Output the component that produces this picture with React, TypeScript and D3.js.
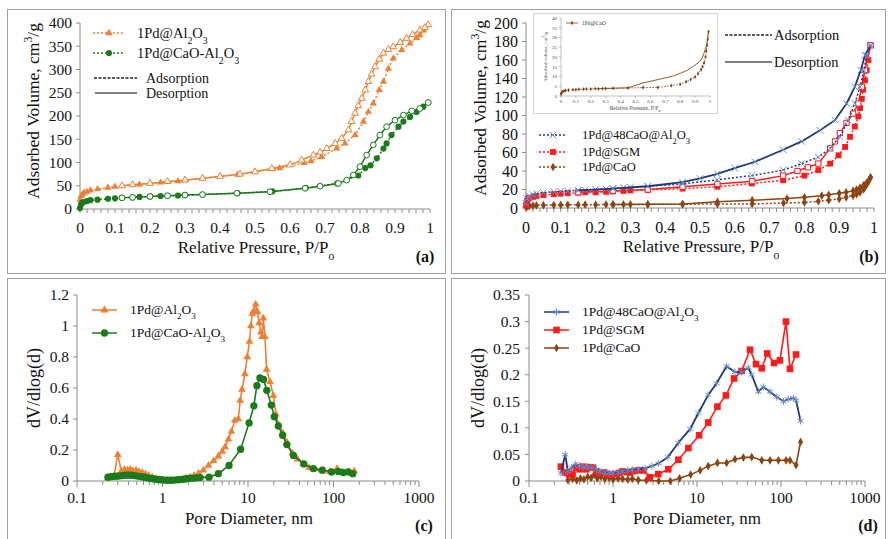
import React from "react";
import * as d3 from "d3";

type Pt = [number, number];

const SERIF = '"Liberation Serif", "Times New Roman", Times, "DejaVu Serif", serif';
const AXIS = "#8a8a8a";
const FRAME = "#a0a0a0";
const ORANGE = "#EE7F33";
const GREEN = "#1B7A1B";
const NAVY = "#1F3A7A";
const NAVY_MK = "#6A8CC8";
const RED = "#FF1A1A";
const BROWN = "#8B4513";

// ---------- (a) N2 isotherms ----------
const alAds: Pt[] = [[0,20],[0.003,28],[0.007,32],[0.012,35],[0.02,37],[0.03,40],[0.05,43],[0.08,46],[0.1,48],[0.12,50],[0.15,52],[0.17,53],[0.2,55],[0.23,57],[0.25,58],[0.28,60],[0.3,62],[0.35,66],[0.45,74],[0.55,86],[0.57,88],[0.64,99],[0.66,103],[0.69,112],[0.733,130],[0.757,141],[0.786,159],[0.81,188],[0.824,209],[0.838,227],[0.855,256],[0.867,274],[0.881,302],[0.895,324],[0.919,342],[0.943,356],[0.962,368],[0.971,374],[0.982,384],[0.995,396]];
const alDes: Pt[] = [[0.995,396],[0.985,390],[0.971,385],[0.95,375],[0.933,367],[0.915,358],[0.895,349],[0.881,343],[0.867,335],[0.855,322],[0.843,306],[0.833,290],[0.824,274],[0.815,256],[0.805,238],[0.795,222],[0.786,206],[0.776,188],[0.767,170],[0.748,152],[0.729,141],[0.705,130],[0.686,122],[0.667,116],[0.633,105],[0.6,95],[0.548,87],[0.5,80],[0.457,75],[0.4,70],[0.35,66],[0.3,62],[0.25,59],[0.2,55],[0.15,52],[0.12,50]];
const caAlAds: Pt[] = [[0,2],[0.003,10],[0.006,13],[0.01,15],[0.02,17],[0.03,19],[0.05,20],[0.08,22],[0.1,23],[0.12,24],[0.15,25],[0.17,26],[0.2,27],[0.23,28],[0.25,28.5],[0.28,29],[0.3,30],[0.35,31],[0.45,34],[0.55,38],[0.645,45],[0.735,55],[0.795,72],[0.815,88],[0.83,94],[0.848,109],[0.867,130],[0.876,141],[0.89,159],[0.91,177],[0.924,188],[0.943,198],[0.962,209],[0.981,220],[0.995,229]];
const caAlDes: Pt[] = [[0.995,229],[0.971,216],[0.948,211],[0.924,202],[0.9,191],[0.876,177],[0.857,159],[0.838,138],[0.819,116],[0.8,91],[0.781,73],[0.762,62],[0.738,55],[0.686,49],[0.643,44.5],[0.543,37],[0.448,34],[0.35,31],[0.3,30],[0.25,28.5],[0.2,27],[0.15,25],[0.12,24]];

// ---------- (b) N2 isotherms ----------
const cao48Ads: Pt[] = [[0,5],[0.003,10],[0.006,12],[0.01,13],[0.02,14.5],[0.03,15.5],[0.05,16.5],[0.08,17.5],[0.1,18],[0.12,18.5],[0.15,19],[0.17,19.5],[0.2,20],[0.23,20.5],[0.25,21],[0.28,22],[0.3,22.5],[0.35,23.5],[0.45,26],[0.55,30.5],[0.649,35],[0.739,41],[0.792,48],[0.84,55],[0.874,64.5],[0.902,77],[0.926,95],[0.945,113],[0.96,131],[0.971,149],[0.979,165],[0.99,176]];
const cao48Des: Pt[] = [[0.99,176],[0.974,165],[0.962,149],[0.945,131],[0.921,113],[0.888,95],[0.845,84],[0.792,72],[0.739,63],[0.658,50],[0.6,43],[0.55,37],[0.5,32],[0.45,28],[0.35,23.5],[0.25,21],[0.15,19]];
const sgmAds: Pt[] = [[0,3],[0.003,8],[0.006,10],[0.01,11],[0.02,12],[0.03,13],[0.05,14],[0.08,15],[0.1,15.5],[0.12,16],[0.15,16.5],[0.17,17],[0.2,17],[0.23,17.5],[0.25,18],[0.28,18.5],[0.3,19],[0.35,19.5],[0.45,21],[0.55,23],[0.649,26.5],[0.739,30],[0.8,35],[0.84,41],[0.874,48],[0.898,57],[0.917,66],[0.931,77],[0.945,88],[0.955,99],[0.96,108],[0.965,118],[0.969,128],[0.974,138],[0.979,149],[0.984,160],[0.99,176]];
const sgmDes: Pt[] = [[0.99,176],[0.974,149],[0.965,131],[0.955,113],[0.94,102],[0.921,92],[0.902,81],[0.888,72],[0.874,64.5],[0.84,48],[0.81,44],[0.78,40],[0.739,35],[0.65,29],[0.55,26],[0.45,23],[0.35,20],[0.25,18.5],[0.15,17]];
const caoAds: Pt[] = [[0,1],[0.005,1.8],[0.01,2.2],[0.02,2.6],[0.03,2.8],[0.05,3],[0.08,3.2],[0.1,3.3],[0.12,3.4],[0.15,3.5],[0.17,3.6],[0.2,3.6],[0.23,3.7],[0.25,3.7],[0.28,3.8],[0.3,3.8],[0.35,3.9],[0.45,4.1],[0.55,4.3],[0.65,4.4],[0.74,5.3],[0.8,6],[0.84,7.3],[0.87,8.5],[0.9,9.8],[0.92,11.5],[0.94,13.5],[0.95,15],[0.96,17],[0.97,20],[0.975,23],[0.98,26],[0.985,29],[0.99,33]];
const caoDes: Pt[] = [[0.99,33],[0.985,30],[0.98,27.5],[0.975,25.5],[0.97,24.5],[0.96,22],[0.95,20],[0.94,18.5],[0.92,17],[0.9,15.9],[0.87,14.3],[0.85,13.3],[0.8,11.6],[0.75,10.2],[0.65,8.4],[0.55,6.7],[0.45,4.2],[0.35,4],[0.25,3.8]];

// ---------- (c) pore size distributions ----------
const alPsd: Pt[] = [[0.23,0.02],[0.25,0.025],[0.27,0.03],[0.3,0.17],[0.33,0.065],[0.36,0.075],[0.39,0.07],[0.42,0.075],[0.45,0.065],[0.49,0.07],[0.53,0.06],[0.58,0.055],[0.63,0.045],[0.69,0.035],[0.76,0.025],[0.84,0.015],[0.93,0.008],[1.03,0.004],[1.14,0.002],[1.26,0.002],[1.4,0.003],[1.55,0.006],[1.72,0.01],[1.9,0.018],[2.1,0.025],[2.35,0.035],[2.65,0.05],[3,0.07],[3.45,0.1],[3.95,0.13],[4.5,0.16],[5,0.19],[5.4,0.22],[5.9,0.27],[6.4,0.32],[7,0.39],[7.7,0.4],[8.1,0.52],[8.5,0.59],[9.2,0.69],[9.8,0.8],[10.4,0.9],[10.8,1.0],[11.2,1.08],[11.7,1.1],[12.3,1.14],[12.9,1.09],[13.5,1.02],[14.1,0.96],[14.6,0.93],[15.1,1.05],[15.8,0.93],[16.5,0.72],[18.1,0.64],[19.8,0.55],[21.2,0.43],[23,0.36],[25.5,0.31],[28.5,0.25],[33,0.18],[38,0.14],[44,0.11],[52,0.085],[62,0.075],[75,0.07],[90,0.06],[110,0.08],[125,0.055],[150,0.06],[175,0.065]];
const caAlPsd: Pt[] = [[0.23,0.025],[0.25,0.028],[0.27,0.03],[0.29,0.031],[0.31,0.033],[0.34,0.035],[0.37,0.037],[0.4,0.038],[0.43,0.037],[0.47,0.035],[0.51,0.032],[0.56,0.028],[0.61,0.024],[0.67,0.02],[0.73,0.016],[0.8,0.013],[0.88,0.01],[0.96,0.008],[1.05,0.006],[1.15,0.005],[1.26,0.005],[1.38,0.006],[1.52,0.008],[1.67,0.01],[1.83,0.013],[2,0.016],[2.2,0.018],[2.45,0.02],[2.75,0.022],[3.5,0.025],[4.5,0.047],[6,0.1],[8.2,0.205],[10.3,0.375],[11.7,0.485],[12.7,0.615],[13.8,0.665],[15.2,0.655],[16.6,0.585],[18.7,0.49],[20.3,0.415],[22.6,0.355],[25.4,0.295],[28.5,0.235],[34,0.165],[45,0.11],[58,0.08],[74,0.07],[95,0.058],[114,0.062],[130,0.055],[149,0.058],[168,0.047]];

// ---------- (d) pore size distributions ----------
const cao48Psd: Pt[] = [[0.24,0.015],[0.27,0.05],[0.29,0.018],[0.32,0.025],[0.36,0.032],[0.4,0.028],[0.45,0.026],[0.5,0.027],[0.56,0.025],[0.63,0.022],[0.7,0.018],[0.8,0.016],[0.9,0.015],[1,0.015],[1.15,0.016],[1.3,0.018],[1.5,0.02],[1.7,0.021],[2,0.022],[2.4,0.024],[2.9,0.028],[3.5,0.033],[4.5,0.045],[6,0.072],[8.3,0.098],[10.4,0.128],[13.6,0.162],[17.1,0.184],[22.5,0.216],[28.3,0.205],[34,0.205],[40.8,0.213],[44.8,0.2],[53.7,0.168],[61.6,0.177],[74,0.168],[89,0.158],[107,0.15],[122,0.154],[140,0.156],[151,0.152],[171,0.113]];
const sgmPsd: Pt[] = [[0.24,0.027],[0.27,0.016],[0.3,0.013],[0.33,0.012],[0.36,0.025],[0.4,0.022],[0.44,0.027],[0.48,0.022],[0.53,0.026],[0.58,0.025],[0.63,0.018],[0.7,0.015],[0.78,0.016],[0.87,0.013],[0.96,0.012],[1.06,0.013],[1.18,0.015],[1.3,0.018],[1.45,0.017],[1.6,0.016],[1.8,0.019],[2,0.02],[2.3,0.02],[2.75,0.007],[3.46,0.013],[4.55,0.022],[6,0.04],[7.9,0.062],[10.6,0.086],[13.6,0.11],[17.5,0.14],[22.1,0.161],[27.6,0.193],[34,0.207],[42.8,0.247],[50.4,0.22],[58.9,0.212],[68.7,0.24],[82.6,0.222],[97,0.227],[114.7,0.3],[128,0.211],[151,0.238]];
const caoPsd: Pt[] = [[0.29,0.002],[0.33,0.004],[0.37,0.001],[0.41,0.005],[0.45,0.003],[0.5,0.008],[0.55,0.006],[0.6,0.012],[0.65,0.005],[0.72,0.008],[0.8,0.004],[0.9,0.006],[1,0.003],[1.15,0.005],[1.3,0.004],[1.5,0.003],[1.7,0.004],[2,0.002],[2.5,0.001],[3.5,0],[4.8,0],[6.2,0.005],[8.4,0.012],[10.9,0.02],[13.6,0.028],[17.5,0.034],[22.5,0.034],[28.3,0.041],[35.6,0.044],[44.8,0.045],[59,0.039],[74,0.039],[93,0.039],[115,0.039],[128,0.039],[151,0.03],[171,0.0735]];

// ---------- ticks ----------
const pTicks = [0, 0.1, 0.2, 0.3, 0.4, 0.5, 0.6, 0.7, 0.8, 0.9, 1];
const pTickLabels = ["0", "0.1", "0.2", "0.3", "0.4", "0.5", "0.6", "0.7", "0.8", "0.9", "1"];
const aYTicks = [0, 50, 100, 150, 200, 250, 300, 350, 400];
const bYTicks = [0, 20, 40, 60, 80, 100, 120, 140, 160, 180, 200];
const insetYTicks = [0, 5, 10, 15, 20, 25, 30, 35, 40];
const dTicks = [0.1, 1, 10, 100, 1000];
const dTickLabels = ["0.1", "1", "10", "100", "1000"];
const cYTicks = [0, 0.2, 0.4, 0.6, 0.8, 1, 1.2];
const cYLabels = ["0", "0.2", "0.4", "0.6", "0.8", "1", "1.2"];
const dYTicks = [0, 0.05, 0.1, 0.15, 0.2, 0.25, 0.3, 0.35];
const dYLabels = ["0", "0.05", "0.1", "0.15", "0.2", "0.25", "0.3", "0.35"];

const SYM: Record<string, any> = {
  tri: d3.symbolTriangle,
  circ: d3.symbolCircle,
  sq: d3.symbolSquare,
  dia: d3.symbolDiamond,
  x: (d3 as any).symbolX ?? d3.symbolCross,
  ast: (d3 as any).symbolAsterisk ?? d3.symbolCross,
};

function markPath(kind: string, size: number) {
  return d3.symbol().type(SYM[kind]).size(size)() as string;
}

function Mark({ x, y, kind, size, color, open, sw }: any) {
  const stroked = kind === "x" || kind === "ast";
  return (
    <path
      d={markPath(kind, size)}
      transform={`translate(${x},${y})`}
      fill={stroked ? "none" : open ? "#fff" : color}
      stroke={color}
      strokeWidth={stroked ? sw ?? 1 : open ? 1 : 0}
    />
  );
}

function Series({ data, xs, ys, color, dash, width = 1.5, kind, size, open, mcolor, msw }: any) {
  const line = d3
    .line<Pt>()
    .x((d) => xs(d[0]))
    .y((d) => ys(d[1]));
  return (
    <g>
      <path d={line(data) as string} fill="none" stroke={color} strokeWidth={width} strokeDasharray={dash} />
      {kind &&
        data.map((d: Pt, i: number) => (
          <Mark key={i} x={xs(d[0])} y={ys(d[1])} kind={kind} size={size} color={mcolor ?? color} open={open} sw={msw} />
        ))}
    </g>
  );
}

function XAxisLin({ xs, y, ticks, labels, labelY, fs = 15.5, minorStep = 0.02, tl = 4 }: any) {
  const [r0, r1] = xs.range();
  const minor = d3.range(0, 1.0001, minorStep);
  return (
    <g>
      <line x1={r0} x2={r1} y1={y} y2={y} stroke={AXIS} strokeWidth={1} />
      {minor.map((v: number, i: number) => (
        <line key={i} x1={xs(v)} x2={xs(v)} y1={y} y2={y + tl} stroke={AXIS} strokeWidth={1} />
      ))}
      {ticks.map((v: number, i: number) => (
        <text key={i} x={xs(v)} y={labelY} textAnchor="middle" fontSize={fs}>
          {labels[i]}
        </text>
      ))}
    </g>
  );
}

function XAxisLog({ xs, y, labelY, fs = 15.5 }: any) {
  const [r0, r1] = xs.range();
  const minors: number[] = [];
  [0.1, 1, 10, 100].forEach((e) => {
    for (let k = 2; k <= 9; k++) minors.push(k * e);
  });
  return (
    <g>
      <line x1={r0} x2={r1} y1={y} y2={y} stroke={AXIS} strokeWidth={1} />
      {minors.map((v, i) => (
        <line key={i} x1={xs(v)} x2={xs(v)} y1={y} y2={y + 4} stroke={AXIS} strokeWidth={1} />
      ))}
      {dTicks.map((v, i) => (
        <line key={"M" + i} x1={xs(v)} x2={xs(v)} y1={y} y2={y + 6} stroke={AXIS} strokeWidth={1} />
      ))}
      {dTicks.map((v, i) => (
        <text key={"t" + i} x={xs(v)} y={labelY} textAnchor="middle" fontSize={fs}>
          {dTickLabels[i]}
        </text>
      ))}
    </g>
  );
}

function YAxis({ ys, x, ticks, labels, labelX, fs = 15.5, tl = 4 }: any) {
  const [r0, r1] = ys.range();
  return (
    <g>
      <line x1={x} x2={x} y1={r0} y2={r1} stroke={AXIS} strokeWidth={1} />
      {ticks.map((v: number, i: number) => (
        <g key={i}>
          <line x1={x - tl} x2={x} y1={ys(v)} y2={ys(v)} stroke={AXIS} strokeWidth={1} />
          <text x={labelX} y={ys(v)} dy="0.35em" textAnchor="end" fontSize={fs}>
            {labels ? labels[i] : String(v)}
          </text>
        </g>
      ))}
    </g>
  );
}

const Sub = ({ c }: { c: string }) => (
  <tspan baselineShift="sub" fontSize="68%">
    {c}
  </tspan>
);
const Sup = ({ c }: { c: string }) => (
  <tspan baselineShift="super" fontSize="68%">
    {c}
  </tspan>
);

function LegendRow({ x1, x2, y, tx, color, dash, kind, size, open, mcolor, msw, fs, children }: any) {
  return (
    <g>
      <line x1={x1} x2={x2} y1={y} y2={y} stroke={color} strokeWidth={1.5} strokeDasharray={dash} />
      {kind && <Mark x={(x1 + x2) / 2} y={y} kind={kind} size={size} color={mcolor ?? color} open={open} sw={msw} />}
      <text x={tx} y={y} dy="0.33em" fontSize={fs}>
        {children}
      </text>
    </g>
  );
}

export default function App() {
  const ax = d3.scaleLinear().domain([0, 1]).range([80, 430]);
  const ay = d3.scaleLinear().domain([0, 400]).range([209, 23]);
  const bx = d3.scaleLinear().domain([0, 1]).range([526, 874]);
  const by = d3.scaleLinear().domain([0, 200]).range([208, 23]);
  const ix = d3.scaleLinear().domain([0, 1]).range([561, 710]);
  const iy = d3.scaleLinear().domain([0, 40]).range([96, 18]);
  const cx = d3.scaleLog().domain([0.1, 1000]).range([77, 419]);
  const cy = d3.scaleLinear().domain([0, 1.2]).range([481, 295]);
  const dx = d3.scaleLog().domain([0.1, 1000]).range([529, 865]);
  const dy = d3.scaleLinear().domain([0, 0.35]).range([481, 295]);

  const dot = "2,2";

  return (
    <svg
      width={888}
      height={539}
      style={{ position: "absolute", left: 0, top: 0, display: "block", fontFamily: SERIF }}
      fontFamily={SERIF}
    >
      <style>{`text, tspan { font-family: ${SERIF}; fill: #111; }`}</style>
      <rect x={0} y={0} width={888} height={539} fill="#fff" />
      <rect x={7.5} y={9.5} width={438} height={264} fill="none" stroke={FRAME} />
      <rect x={451.5} y={9.5} width={434} height={264} fill="none" stroke={FRAME} />
      <rect x={7.5} y={278.5} width={438} height={275} fill="none" stroke={FRAME} />
      <rect x={451.5} y={278.5} width={434} height={275} fill="none" stroke={FRAME} />

      {/* ================= (a) ================= */}
      <g>
        <XAxisLin xs={ax} y={209} ticks={pTicks} labels={pTickLabels} labelY={233} />
        <YAxis ys={ay} x={80} ticks={aYTicks} labelX={72} />
        <Series data={alAds} xs={ax} ys={ay} color={ORANGE} dash={dot} kind="tri" size={22} />
        <Series data={alDes} xs={ax} ys={ay} color={ORANGE} kind="tri" size={20} open />
        <Series data={caAlAds} xs={ax} ys={ay} color={GREEN} dash={dot} kind="circ" size={30} />
        <Series data={caAlDes} xs={ax} ys={ay} color={GREEN} kind="circ" size={26} open />
        <LegendRow x1={93} x2={125} y={33} tx={137} color={ORANGE} dash={dot} kind="tri" size={24} fs={14.5}>
          1Pd@Al<Sub c="2" />O<Sub c="3" />
        </LegendRow>
        <LegendRow x1={93} x2={125} y={53} tx={137} color={GREEN} dash={dot} kind="circ" size={30} fs={14.5}>
          1Pd@CaO-Al<Sub c="2" />O<Sub c="3" />
        </LegendRow>
        <LegendRow x1={94} x2={137} y={78} tx={146} color="#222" dash="3,1.5" fs={14}>
          Adsorption
        </LegendRow>
        <LegendRow x1={95} x2={137} y={93} tx={146} color="#555" fs={14}>
          Desorption
        </LegendRow>
        <text x={256} y={253} textAnchor="middle" fontSize={17}>
          Relative Pressure, P/P<Sub c="o" />
        </text>
        <text transform="translate(39,111) rotate(-90)" textAnchor="middle" fontSize={17.5}>
          Adsorbed Volume, cm<Sup c="3" />/g
        </text>
        <text x={425} y={262} textAnchor="middle" fontSize={16} fontWeight="bold">
          (a)
        </text>
      </g>

      {/* ================= (b) ================= */}
      <g>
        <XAxisLin xs={bx} y={208} ticks={pTicks} labels={pTickLabels} labelY={233} fs={16} />
        <YAxis ys={by} x={526} ticks={bYTicks} labelX={518} fs={16} />
        <Series data={caoAds} xs={bx} ys={by} color={BROWN} dash={dot} kind="dia" size={22} />
        <Series data={caoDes} xs={bx} ys={by} color={BROWN} kind="dia" size={22} />
        <Series data={sgmAds} xs={bx} ys={by} color={RED} dash={dot} kind="sq" size={34} />
        <Series data={sgmDes} xs={bx} ys={by} color={RED} kind="sq" size={28} open />
        <Series data={cao48Ads} xs={bx} ys={by} color={NAVY} dash={dot} kind="x" size={30} mcolor={NAVY_MK} />
        <Series data={cao48Des} xs={bx} ys={by} color={NAVY} width={1.8} kind="x" size={30} mcolor={NAVY_MK} />

        {/* inset */}
        <rect x={533.5} y={13.5} width={184} height={100} fill="#fff" stroke="#d4d4d4" />
        <line x1={561} x2={561} y1={18} y2={96} stroke="#999" strokeWidth={0.6} />
        <line x1={561} x2={710} y1={96} y2={96} stroke="#999" strokeWidth={0.6} />
        {insetYTicks.map((v, i) => (
          <g key={"iy" + i}>
            <line x1={559} x2={561} y1={iy(v)} y2={iy(v)} stroke="#999" strokeWidth={0.6} />
            <text x={557} y={iy(v)} dy="0.35em" textAnchor="end" fontSize={5} style={{ fill: "#444" }}>
              {v}
            </text>
          </g>
        ))}
        {pTicks.map((v, i) => (
          <g key={"ix" + i}>
            <line x1={ix(v)} x2={ix(v)} y1={96} y2={98} stroke="#999" strokeWidth={0.6} />
            <text x={ix(v)} y={103} textAnchor="middle" fontSize={5} style={{ fill: "#444" }}>
              {pTickLabels[i]}
            </text>
          </g>
        ))}
        <Series data={caoAds} xs={ix} ys={iy} color={BROWN} dash="1.5,1.5" width={0.9} kind="dia" size={5} />
        <Series data={caoDes} xs={ix} ys={iy} color={BROWN} width={0.9} />
        <text x={635} y={110} textAnchor="middle" fontSize={5.5} style={{ fill: "#444" }}>
          Relative Pressure, P/P<Sub c="o" />
        </text>
        <text transform="translate(547,57) rotate(-90)" textAnchor="middle" fontSize={5} style={{ fill: "#444" }}>
          Adsorbed volume, cm<Sup c="3" />/g
        </text>
        <line x1={566} x2={578} y1={23} y2={23} stroke={BROWN} strokeWidth={0.8} />
        <Mark x={572} y={23} kind="dia" size={6} color={BROWN} />
        <text x={582} y={25} fontSize={5.5} style={{ fill: "#333" }}>
          1Pd@CaO
        </text>

        <LegendRow x1={725} x2={772} y={35} tx={774} color="#222" dash="3,1.5" fs={14.5}>
          Adsorption
        </LegendRow>
        <LegendRow x1={725} x2={772} y={62} tx={774} color="#555" fs={14.5}>
          Desorption
        </LegendRow>
        <LegendRow x1={539} x2={567} y={135} tx={582} color={NAVY} dash={dot} kind="x" size={30} mcolor={NAVY_MK} fs={12.5}>
          1Pd@48CaO@Al<Sub c="2" />O<Sub c="3" />
        </LegendRow>
        <LegendRow x1={539} x2={567} y={152} tx={582} color={RED} dash={dot} kind="sq" size={34} fs={12.5}>
          1Pd@SGM
        </LegendRow>
        <LegendRow x1={539} x2={567} y={167} tx={582} color={BROWN} dash={dot} kind="dia" size={22} fs={12.5}>
          1Pd@CaO
        </LegendRow>
        <text x={701} y={252} textAnchor="middle" fontSize={17}>
          Relative Pressure, P/P<Sub c="o" />
        </text>
        <text transform="translate(486,108) rotate(-90)" textAnchor="middle" fontSize={17.5}>
          Adsorbed Volume, cm<Sup c="3" />/g
        </text>
        <text x={869} y={262} textAnchor="middle" fontSize={16} fontWeight="bold">
          (b)
        </text>
      </g>

      {/* ================= (c) ================= */}
      <g>
        <XAxisLog xs={cx} y={481} labelY={503} />
        <YAxis ys={cy} x={77} ticks={cYTicks} labels={cYLabels} labelX={69} />
        <Series data={alPsd} xs={cx} ys={cy} color={ORANGE} width={1.6} kind="tri" size={26} />
        <Series data={caAlPsd} xs={cx} ys={cy} color={GREEN} width={1.6} kind="circ" size={42} />
        <LegendRow x1={92} x2={117} y={310} tx={130} color={ORANGE} kind="tri" size={30} fs={13.5}>
          1Pd@Al<Sub c="2" />O<Sub c="3" />
        </LegendRow>
        <LegendRow x1={92} x2={117} y={333} tx={130} color={GREEN} kind="circ" size={42} fs={13.5}>
          1Pd@CaO-Al<Sub c="2" />O<Sub c="3" />
        </LegendRow>
        <text x={249} y={524} textAnchor="middle" fontSize={17}>
          Pore Diameter, nm
        </text>
        <text transform="translate(40,388) rotate(-90)" textAnchor="middle" fontSize={18}>
          dV/dlog(d)
        </text>
        <text x={424} y={531} textAnchor="middle" fontSize={16} fontWeight="bold">
          (c)
        </text>
      </g>

      {/* ================= (d) ================= */}
      <g>
        <XAxisLog xs={dx} y={481} labelY={503} />
        <YAxis ys={dy} x={529} ticks={dYTicks} labels={dYLabels} labelX={520} />
        <Series data={caoPsd} xs={dx} ys={dy} color={BROWN} width={1.6} kind="dia" size={22} />
        <Series data={sgmPsd} xs={dx} ys={dy} color={RED} width={1.6} kind="sq" size={44} />
        <Series data={cao48Psd} xs={dx} ys={dy} color={NAVY} width={1.8} kind="ast" size={34} mcolor={NAVY_MK} />
        <LegendRow x1={544} x2={569} y={312} tx={582} color={NAVY} kind="ast" size={34} mcolor={NAVY_MK} fs={13.5}>
          1Pd@48CaO@Al<Sub c="2" />O<Sub c="3" />
        </LegendRow>
        <LegendRow x1={544} x2={569} y={330} tx={582} color={RED} kind="sq" size={44} fs={13.5}>
          1Pd@SGM
        </LegendRow>
        <LegendRow x1={544} x2={569} y={348} tx={582} color={BROWN} kind="dia" size={22} fs={13.5}>
          1Pd@CaO
        </LegendRow>
        <text x={697} y={524} textAnchor="middle" fontSize={17}>
          Pore Diameter, nm
        </text>
        <text transform="translate(484,388) rotate(-90)" textAnchor="middle" fontSize={18}>
          dV/dlog(d)
        </text>
        <text x={868} y={531} textAnchor="middle" fontSize={16} fontWeight="bold">
          (d)
        </text>
      </g>
    </svg>
  );
}
